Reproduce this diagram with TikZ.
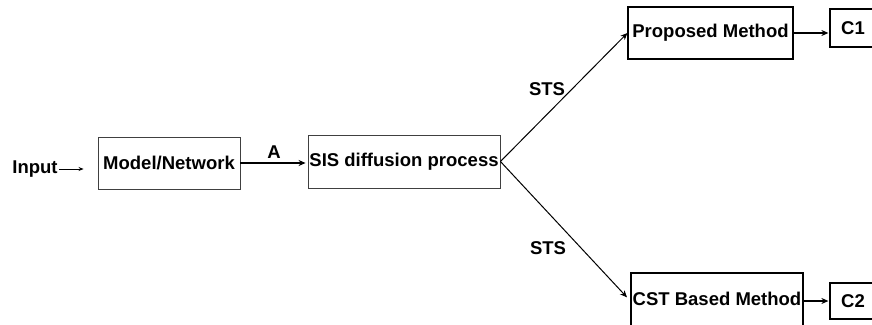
\documentclass[tikz,border=0pt]{standalone}
\usepackage{fontspec}
\setmainfont{Liberation Sans}
\usetikzlibrary{arrows.meta}
\begin{document}
\begin{tikzpicture}[x=1pt,y=-1pt,
  font=\fontsize{18.5}{22}\selectfont\bfseries,
  box/.style={draw=black!75, line width=0.9pt, minimum width=#1, inner sep=0pt},
  tip/.style={-{Stealth[length=7pt,width=6pt]}},
  thin tip/.style={-{Stealth[length=5pt,width=4pt]}},
  lbl/.style={inner sep=1pt}]
\useasboundingbox (0,0) rectangle (872,324);
\clip (0,0) rectangle (872,324);
\fill[white] (0,0) rectangle (872,324);

% processing chain
\node[lbl] (input) at (35,169) {Input};
\node[box=142pt, minimum height=52pt] (model) at (169,163) {Model/Network};
\node[box=192pt, minimum height=53pt] (sis) at (404,161.5) {SIS diffusion process};
\node[box=165pt, minimum height=52pt, draw=black, line width=1.2pt] (prop) at (710.5,33) {Proposed Method};
\node[box=50pt, minimum height=38pt, draw=black, line width=1.2pt] (c1) at (855,28) {\hspace*{-4pt}C1};
\node[box=172pt, minimum height=56pt, draw=black, line width=1.2pt] (cst) at (717,301) {};
\node[lbl] (cstlabel) at (717,299) {CST Based Method};
\node[box=50pt, minimum height=36pt, draw=black, line width=1.2pt] (c2) at (855,301) {\hspace*{-4pt}C2};

% edge labels
\node[lbl] (stsup) at (547,89) {STS};
\node[lbl] (stsdown) at (548,248) {STS};

% connectors
\draw[thin tip, line width=0.8pt, shorten >=14pt] (input.east) -- (model.west |- input.east);
\draw[tip, line width=1.8pt, shorten >=2pt] (model.east) -- node[above=3pt, lbl] {A} (sis.west |- model.east);
\draw[tip, line width=1pt] (sis.east) -- (prop.west);
\draw[tip, line width=1pt, shorten >=5pt] (sis.east) -- (cst.west);
\draw[tip, line width=1.8pt, shorten >=1pt] (prop.east) -- (c1.west |- prop.east);
\draw[tip, line width=1.8pt, shorten >=1pt] (cst.east |- c2.west) -- (c2.west);
\end{tikzpicture}
\end{document}
